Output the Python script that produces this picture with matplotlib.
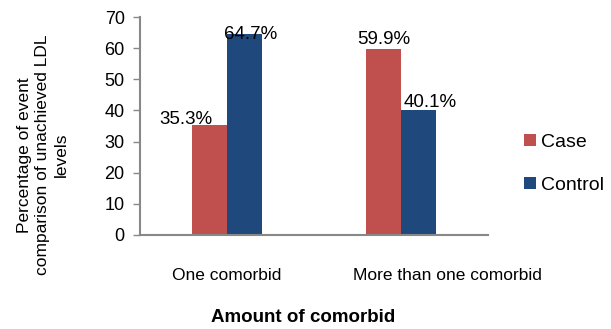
import matplotlib
matplotlib.use("Agg")
import matplotlib.pyplot as plt
import matplotlib.transforms as mtransforms
import numpy as np

plt.rcParams['font.family'] = ['Liberation Sans', 'DejaVu Sans']

categories = ['One comorbid', 'More than one comorbid']
case_vals = [35.3, 59.9]
control_vals = [64.7, 40.1]
series_names = ['Case', 'Control']

colors = ['#C0504D', '#1F497D']
# label nudges in pixels (dx, dy), per series and category
label_nudge = {('Case', 0): (-24, 1), ('Control', 0): (6, -5),
               ('Case', 1): (0, 5), ('Control', 1): (12, 3)}

fig = plt.figure(figsize=(6.11, 3.29), dpi=100)
ax = fig.add_axes([0.229, 0.286, 0.57, 0.662])

x = np.arange(len(categories))
w = 0.2
for i, (name, vals) in enumerate(zip(series_names, [case_vals, control_vals])):
    pos = x - w / 2 + i * w
    ax.bar(pos, vals, width=w, color=colors[i], label=name)
    for j, v in enumerate(vals):
        dx, dy = label_nudge[(name, j)]
        ax.annotate(f"{v:.1f}%", (pos[j], v), xytext=(dx, dy),
                    textcoords='offset pixels', ha='center', va='baseline',
                    fontsize=13.5, color='#000000')

ax.set_xlim(-0.5, 1.5)
ax.set_ylim(0, 70)
ax.set_yticks(range(0, 71, 10))
ax.set_xticks(x)
ax.set_xticklabels(categories, fontsize=12.5)
ax.tick_params(axis='x', length=0, pad=24)
ax.tick_params(axis='y', length=5, width=1, color='#888888', labelsize=13, pad=6)

# second category label sits off-centre in the original
lbl = ax.get_xticklabels()[1]
lbl.set_transform(lbl.get_transform() + mtransforms.ScaledTranslation(0.46, 0, fig.dpi_scale_trans))

for s in ['top', 'right']:
    ax.spines[s].set_visible(False)
for s in ['left', 'bottom']:
    ax.spines[s].set_color('#888888')
    ax.spines[s].set_linewidth(1.5)

fig.text(43 / 611, 1 - 155 / 329,
         'Percentage of event\ncomparison of unachieved LDL\nlevels',
         rotation=90, ha='center', va='center', fontsize=12.5, linespacing=1.3)
fig.text(303 / 611, 1 - 318 / 329, 'Amount of comorbid', ha='center',
         va='center', fontsize=13.5, fontweight='bold')

fig.legend(loc='center left', bbox_to_anchor=(0.845, 1 - 164 / 329), frameon=False,
           fontsize=14, handlelength=0.6, handleheight=0.6, handletextpad=0.25,
           labelspacing=1.35, borderaxespad=0)

fig.savefig('out.png', dpi=100)
